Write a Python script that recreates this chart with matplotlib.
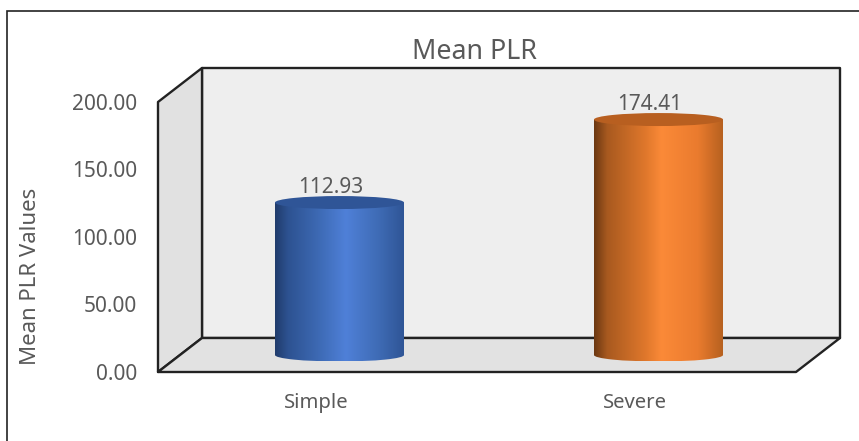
import numpy as np
import matplotlib
matplotlib.use('Agg')
import matplotlib.pyplot as plt
from matplotlib.colors import LinearSegmentedColormap
from matplotlib.patches import Ellipse, Polygon, Rectangle, PathPatch
from matplotlib.path import Path

categories = ['Simple', 'Severe']
values = [112.93, 174.41]
y_ticks = [0, 50, 100, 150, 200]

blue_stops = [(0, '#203c6c'), (0.1, '#2d5291'), (0.35, '#3e6bb6'), (0.55, '#4f80d8'),
              (0.8, '#3f6cb6'), (1, '#2f5596')]
orange_stops = [(0, '#6b3812'), (0.1, '#a8591f'), (0.4, '#e0782c'), (0.52, '#fb8a38'),
                (0.8, '#ea7b2e'), (1, '#b5601f')]
top_colors = ['#2f5597', '#b85f20']

plt.rcParams['font.family'] = ['Noto Sans', 'DejaVu Sans']
TEXT = '#595959'

fig = plt.figure(figsize=(8.59, 4.41), dpi=100)
ax = fig.add_axes([0, 0, 1, 1])

# одна категория = 319 px, одна единица значения = 1.35 px, ноль на середине глубины
px_x = 319
px_y = 1.35
ax.axis('off')

dx = 22 / px_x  # половина глубины
dy = 17 / px_y
left, right = -0.5, 1.5
top = y_ticks[-1]

line = dict(edgecolor='#222222', linewidth=1.7, joinstyle='round')
# задняя стенка, левая стенка, пол
ax.add_patch(Polygon([(left + dx, dy), (right + dx, dy), (right + dx, top + dy), (left + dx, top + dy)],
                     facecolor='#eeeeee', **line))
ax.add_patch(Polygon([(left - dx, -dy), (left + dx, dy), (left + dx, top + dy), (left - dx, top - dy)],
                     facecolor='#e1e1e1', **line))
ax.add_patch(Polygon([(left - dx, -dy), (right - dx, -dy), (right + dx, dy), (left + dx, dy)],
                     facecolor='#e2e2e2', **line))

# цилиндры
width = 129 / px_x
ell_h = 13 / px_y
stops = [blue_stops, orange_stops]
grad = np.linspace(0, 1, 256).reshape(1, -1)
for i, value in enumerate(values):
    x0, x1 = i - width / 2, i + width / 2
    cmap = LinearSegmentedColormap.from_list('c' + str(i), stops[i])
    img = ax.imshow(grad, cmap=cmap, extent=[x0, x1, -ell_h / 2, value], aspect='auto', zorder=3,
                    interpolation='bilinear')
    bottom = Ellipse((i, 0), width, ell_h, transform=ax.transData)
    side = Rectangle((x0, 0), width, value, transform=ax.transData)
    clip = Path.make_compound_path(bottom.get_path().transformed(bottom.get_patch_transform()),
                                   side.get_path().transformed(side.get_patch_transform()))
    img.set_clip_path(PathPatch(clip, transform=ax.transData))
    ax.add_patch(Ellipse((i, value), width, ell_h, facecolor=top_colors[i], edgecolor='none', zorder=4))
    ax.text(i - 0.028, value + 3.5, f'{value:.2f}', ha='center', va='bottom', fontsize=15, color=TEXT, zorder=5)
    ax.text(i - 0.073, -dy - 23, categories[i], ha='center', va='center', fontsize=14.6, color=TEXT)

# оси задаём после imshow, он их сбрасывает
ax.set_xlim(-339.5 / px_x, (859 - 339.5) / px_x)
ax.set_ylim(-(441 - 355) / px_y, 355 / px_y)

for t in y_ticks:
    ax.text(left - dx - 21 / px_x, t - dy - 1.5, f'{t:.2f}', ha='right', va='center', fontsize=15, color=TEXT)

ax.text(31, 441 - 276, 'Mean PLR Values', rotation=90, ha='center', va='center', fontsize=16, color=TEXT,
        transform=None)
ax.text(474, 441 - 52, 'Mean PLR', ha='center', va='center', fontsize=19.3, color=TEXT, transform=None)

# рамка области диаграммы
fig.add_artist(Rectangle((7 / 859, -0.1), 1, 1.1 - 11 / 441, transform=fig.transFigure, fill=False,
                         edgecolor='#222222', linewidth=1.2))

plt.savefig('out.png', dpi=100)
